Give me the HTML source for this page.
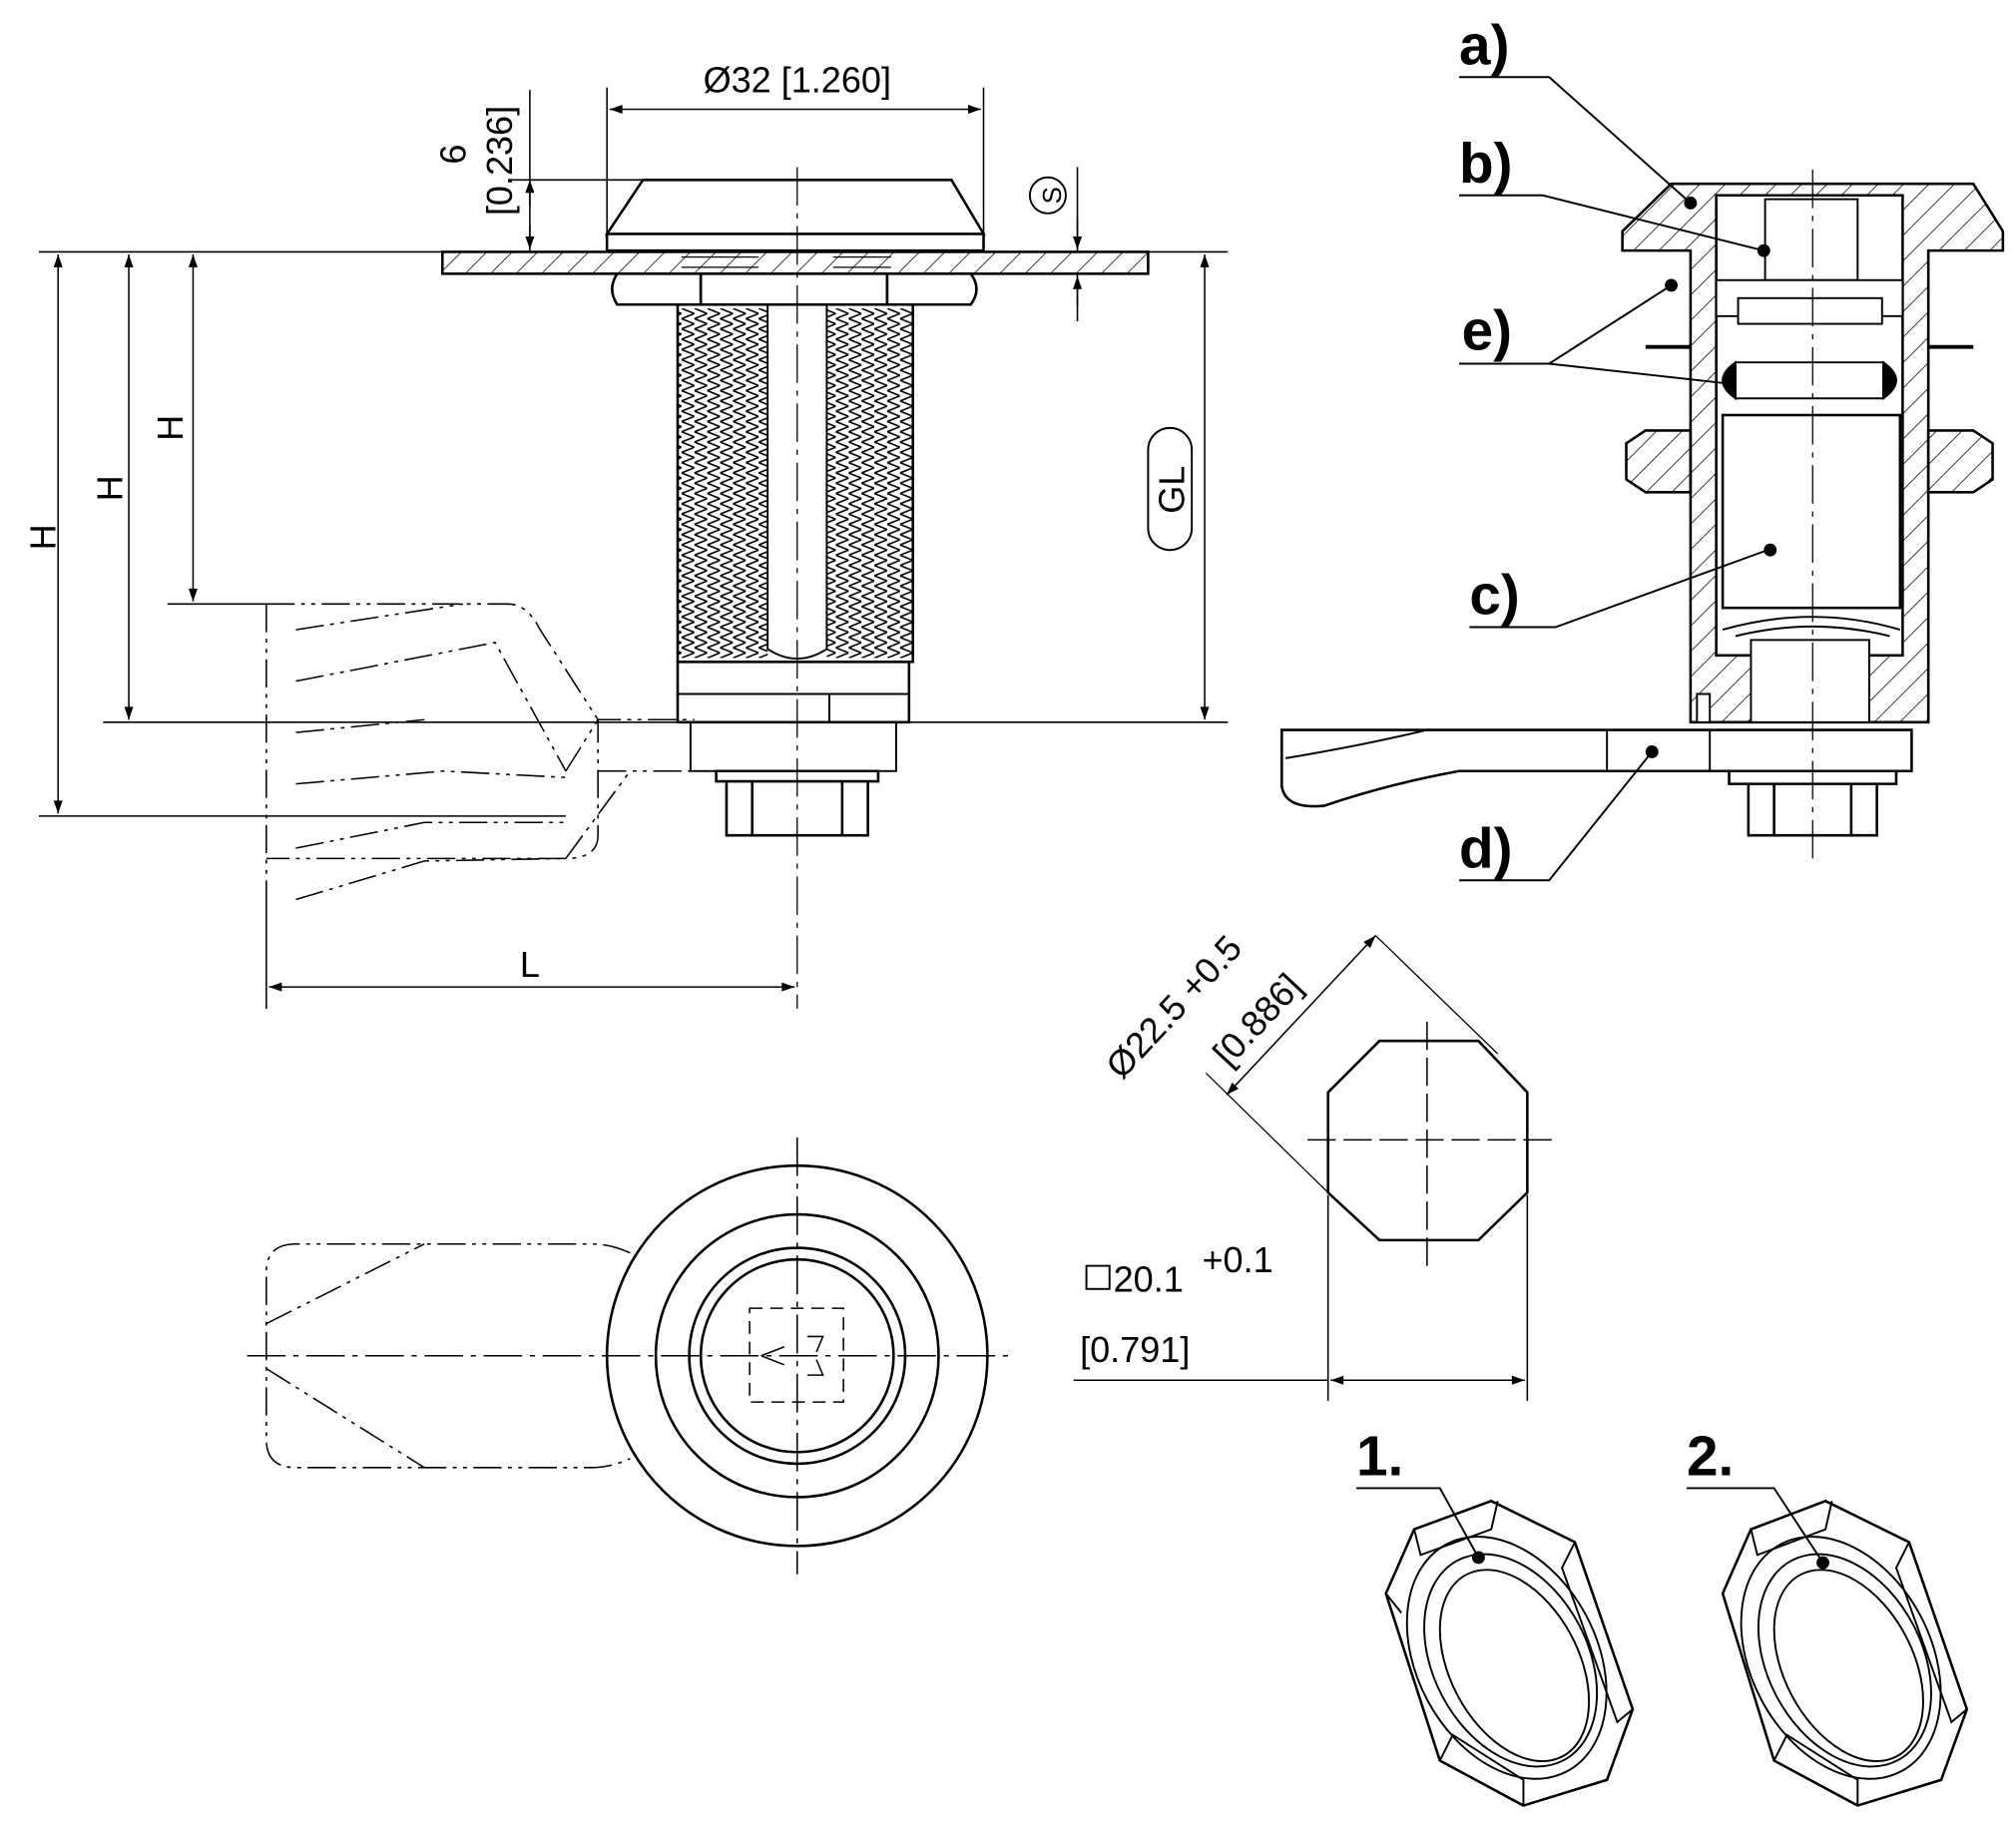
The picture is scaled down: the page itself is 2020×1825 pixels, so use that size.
<!DOCTYPE html>
<html><head><meta charset="utf-8"><style>
html,body{margin:0;padding:0;background:#fff}
svg{display:block}
text{font-family:"Liberation Sans",sans-serif;fill:#000}
</style></head><body>
<svg width="2020" height="1825" viewBox="0 0 1568 1417" xmlns="http://www.w3.org/2000/svg">
<defs>
<pattern id="h" width="14" height="14" patternUnits="userSpaceOnUse" patternTransform="rotate(45)"><line x1="0" y1="0" x2="0" y2="14" stroke="#000" stroke-width="1.2"/></pattern>
<pattern id="t" width="10" height="8" patternUnits="userSpaceOnUse"><path d="M0,0 L10,4 L0,8" fill="none" stroke="#000" stroke-width="1.3"/></pattern>
<marker id="a" viewBox="0 0 10 10" refX="10" refY="5" markerWidth="14" markerHeight="10" markerUnits="userSpaceOnUse" orient="auto-start-reverse"><path d="M0,1.5 L10,5 L0,8.5z" fill="#000"/></marker>
</defs>
<g fill="none" stroke="#000" stroke-width="1.5">
<rect x="344" y="196" width="549" height="17" fill="url(#h)" stroke-width="2"/>
<path d="M500,140 L740,140 L765,182 L472,182 Z M472,182 L765,182 L765,195 L472,195 Z" fill="#fff" stroke-width="2"/>
<g fill="#fff" stroke-width="2">
<path d="M480,213 H545 V237 H480 Q472,225 480,213 Z"/>
<path d="M545,213 H690 V237 H545 Z"/>
<path d="M690,213 H755 Q764,225 755,237 H690 Z"/>
</g>
<rect x="527" y="237" width="183" height="278" fill="#fff" stroke-width="2"/>
<rect x="527" y="240" width="70" height="272" fill="url(#t)" stroke="none"/>
<rect x="643" y="240" width="67" height="272" fill="url(#t)" stroke="none"/>
<path d="M597,237 V505 Q620,520 643,505 V237"/>
<g stroke-width="1"><path d="M530,200h60M530,208h60M648,200h45M648,208h45"/></g>
<rect x="527" y="515" width="180" height="47" stroke-width="2"/>
<path d="M527,540 H707 M645,540 V562" />
<rect x="537" y="562" width="160" height="38" stroke-width="1.5"/>
<path d="M557,600 H683 V608 H557 Z M565,608 H675 V650 H565 Z M585,608 V650 M655,608 V650" stroke-width="2"/>
<path d="M620,130 V785" stroke-dasharray="30,6,4,6" stroke-width="1"/>
<g stroke-dasharray="22,5,3,5,3,5" stroke-width="1.2">
<path d="M207,470 H395 Q410,470 420,490 L465,560 L465,650 Q465,668 440,668 L207,668"/>
<path d="M207,470 V700"/>
<path d="M230,490 L360,470 M230,530 L385,500 L440,600 M230,570 L330,560 M230,610 L345,600 L440,605 M230,660 L330,640 L440,640 M230,700 L330,670 L440,668"/>
<path d="M440,600 L465,560 H540 M465,600 H540 M440,668 L490,600"/>
</g>
<path d="M30,196 H344 M893,196 H955 M80,562 H527 M707,562 H955 M30,635 H440 M130,470 H207" stroke-width="1.2"/>
<g marker-start="url(#a)" marker-end="url(#a)" stroke-width="1.2">
<path d="M45,198 V633"/><path d="M100,198 V560"/><path d="M150,198 V468"/>
<path d="M937,198 V560"/><path d="M474,85 H763"/><path d="M209,768 H618"/>
</g>
<path d="M472,68 V182 M765,68 V182 M207,700 V785 M395,140 H500" stroke-width="1.2"/>
<path d="M412,70 V196 M838,130 V196 M838,213 V250" stroke-width="1.2"/>
<path d="M412,160 V140" marker-end="url(#a)" stroke-width="1.2"/>
<path d="M412,176 V194" marker-end="url(#a)" stroke-width="1.2"/>
<path d="M838,170 V194" marker-end="url(#a)" stroke-width="1.2"/>
<path d="M838,238 V215" marker-end="url(#a)" stroke-width="1.2"/>
<circle cx="815" cy="152" r="14" stroke-width="1.5"/>
<rect x="893" y="333" width="34" height="95" rx="17" stroke-width="1.5"/>

<path d="M1262,195 L1262,180 L1300,143 L1535,143 L1558,180 L1558,195 L1500,195 L1500,562 L1315,562 L1315,195 Z" fill="url(#h)" stroke-width="2"/>
<path d="M1335,152 H1480 V510 H1335 Z" fill="#fff" stroke-width="2"/>
<rect x="1373" y="155" width="72" height="63" fill="#fff"/>
<rect x="1335" y="218" width="145" height="28" fill="#fff"/>
<rect x="1352" y="232" width="112" height="20" fill="#fff"/>
<path d="M1350,282 H1465 V310 H1350 Z" fill="#fff"/>
<path d="M1350,282 Q1330,296 1350,310 Z M1465,282 Q1485,296 1465,310 Z" fill="#000"/>
<rect x="1340" y="323" width="138" height="150" fill="#fff" stroke-width="2"/>
<path d="M1340,490 Q1410,470 1478,490 M1350,495 Q1410,480 1470,495" />
<rect x="1362" y="498" width="92" height="64" fill="#fff"/>
<path d="M1265,345 L1280,335 H1315 V383 H1280 L1265,373 Z M1500,335 H1535 L1550,345 V373 L1535,383 H1500 Z" fill="url(#h)" stroke-width="2"/>
<path d="M1280,270 H1315 M1500,270 H1535" stroke-width="3"/>
<path d="M1320,540 L1330,540 L1330,562 L1320,562Z" fill="#fff"/>
<path d="M997,568 H1487 V600 H1330 L1250,600 L1135,600 Q1080,610 1030,627 Q1000,630 997,612 Z" fill="#fff" stroke-width="2"/>
<path d="M1110,568 Q1060,580 1000,590 M1250,568 V600 M1330,568 V600" />
<path d="M1345,600 H1475 V610 H1345 Z M1360,610 H1460 V650 H1360 Z M1380,610 V650 M1440,610 V650" stroke-width="2"/>
<path d="M1410,132 V668" stroke-dasharray="30,6,4,6" stroke-width="1"/>
<g stroke-width="1.5">
<path d="M1135,60 H1205 L1315,158"/>
<path d="M1135,152 H1200 L1372,195"/>
<path d="M1135,283 H1205 L1300,222 M1205,283 L1340,298"/>
<path d="M1143,488 H1210 L1375,428"/>
<path d="M1135,685 H1205 L1285,585"/>
</g>
<g fill="#000" stroke="none"><circle cx="1315" cy="158" r="5"/><circle cx="1372" cy="195" r="5"/><circle cx="1300" cy="222" r="5"/><circle cx="1377" cy="428" r="5"/><circle cx="1285" cy="585" r="5"/></g>

<path d="M1073,810 H1150 L1188,850 V928 L1150,965 H1073 L1033,928 V850 Z" stroke-width="2"/>
<path d="M1110,795 V985 M1017,887 H1210" stroke-dasharray="22,6" stroke-width="1.2"/>
<path d="M954,852 L1070,728" marker-start="url(#a)" marker-end="url(#a)" stroke-width="1.2"/>
<path d="M938,835 L1033,928 M1070,728 L1165,820" stroke-width="1"/>
<path d="M1033,930 V1090 M1188,930 V1090 M835,1074 H1033" stroke-width="1.2"/>
<path d="M1035,1074 H1186" marker-start="url(#a)" marker-end="url(#a)" stroke-width="1.2"/>
<rect x="845" y="985" width="18" height="18" stroke-width="1.5"/>

<circle cx="620" cy="1055" r="148" stroke-width="2"/>
<circle cx="620" cy="1055" r="110" stroke-width="2"/>
<circle cx="620" cy="1055" r="84" stroke-width="2"/>
<circle cx="620" cy="1055" r="75" stroke-width="2"/>
<path d="M620,885 V1225 M192,1055 H790" stroke-dasharray="30,6,4,6" stroke-width="1.2"/>
<rect x="583" y="1018" width="73" height="73" stroke-dasharray="10,6" stroke-width="1.2"/>
<path d="M592,1055 L610,1048 M592,1055 L610,1062 M628,1040 H640 L635,1052 M628,1070 H640 L635,1058" stroke-width="1.2"/>
<g stroke-dasharray="22,5,3,5,3,5" stroke-width="1.2">
<path d="M490,975 Q475,968 460,968 H230 Q207,968 207,990 V1120 Q207,1142 230,1142 H460 Q475,1142 490,1135"/>
<path d="M207,1030 L330,968 M207,1065 L330,1142"/>
</g>

<g stroke-width="1.5">
<path d="M1078,1240 L1100,1190 L1160,1168 L1225,1200 L1270,1330 L1250,1385 L1185,1405 L1120,1370 Z" stroke-width="2"/>
<path d="M1100,1190 L1105,1210 L1160,1190 L1165,1168 M1225,1200 L1215,1220 L1258,1340 L1270,1330 M1120,1370 L1130,1350 L1185,1385 L1185,1405 M1078,1240 L1090,1255"/>
<ellipse cx="1172" cy="1290" rx="70" ry="100" transform="rotate(-28 1172 1290)"/>
<ellipse cx="1175" cy="1292" rx="60" ry="88" transform="rotate(-28 1175 1292)"/>
<ellipse cx="1178" cy="1296" rx="50" ry="80" transform="rotate(-28 1178 1296)"/>
<path d="M1340,1240 L1362,1190 L1420,1168 L1485,1200 L1530,1330 L1510,1385 L1445,1405 L1380,1370 Z" stroke-width="2"/>
<path d="M1362,1190 L1367,1210 L1420,1190 L1425,1168 M1485,1200 L1475,1220 L1518,1340 L1530,1330 M1380,1370 L1390,1350 L1445,1385 L1445,1405"/>
<ellipse cx="1432" cy="1290" rx="70" ry="100" transform="rotate(-28 1432 1290)"/>
<ellipse cx="1435" cy="1292" rx="60" ry="88" transform="rotate(-28 1435 1292)"/>
<ellipse cx="1438" cy="1296" rx="50" ry="80" transform="rotate(-28 1438 1296)"/>
<path d="M1055,1158 H1120 L1150,1212 M1312,1158 H1380 L1418,1216"/>
</g>
<g fill="#000" stroke="none"><circle cx="1150" cy="1212" r="5"/><circle cx="1418" cy="1216" r="5"/></g>
</g>

<g font-size="28">
<text x="620" y="72" text-anchor="middle">Ø32 [1.260]</text>
<text transform="translate(362,120) rotate(-90)" text-anchor="middle">6</text>
<text transform="translate(398,125) rotate(-90)" text-anchor="middle">[0.236]</text>
<text transform="translate(43,418) rotate(-90)" text-anchor="middle">H</text>
<text transform="translate(95,380) rotate(-90)" text-anchor="middle">H</text>
<text transform="translate(142,333) rotate(-90)" text-anchor="middle">H</text>
<text transform="translate(921,381) rotate(-90)" text-anchor="middle">GL</text>
<text transform="translate(825,152) rotate(-90)" text-anchor="middle" font-size="20">S</text>
<text x="412" y="760" text-anchor="middle">L</text>
<text transform="translate(920,790) rotate(-47)" text-anchor="middle">Ø22.5 +0.5</text>
<text transform="translate(985,800) rotate(-47)" text-anchor="middle">[0.886]</text>
<text x="866" y="1005">20.1</text>
<text x="935" y="990">+0.1</text>
<text x="840" y="1060">[0.791]</text>
</g>
<g font-size="44" font-weight="bold">
<text x="1135" y="50">a)</text>
<text x="1135" y="142">b)</text>
<text x="1137" y="272">e)</text>
<text x="1143" y="478">c)</text>
<text x="1135" y="675">d)</text>
<text x="1055" y="1148">1.</text>
<text x="1312" y="1148">2.</text>
</g>
</svg>
</body></html>
